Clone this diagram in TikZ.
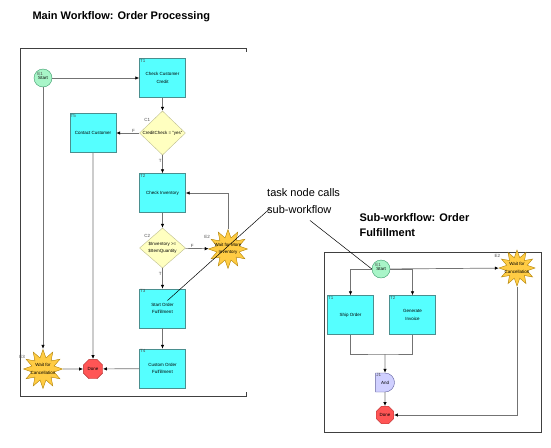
\documentclass[tikz,border=0pt]{standalone}
\usepackage{fontspec}
\setmainfont{Liberation Sans}
\usetikzlibrary{shapes.geometric,shapes.misc,arrows.meta}
\definecolor{taskcyan}{HTML}{55FFFF}
\definecolor{taskedge}{HTML}{4A8F8F}
\definecolor{condfill}{HTML}{FFFFC0}
\definecolor{condedge}{HTML}{BDBD8F}
\definecolor{startfill}{HTML}{A8F5C8}
\definecolor{startedge}{HTML}{3A9A6A}
\definecolor{donefill}{HTML}{FF5555}
\definecolor{doneedge}{HTML}{B03030}
\definecolor{eventfill}{HTML}{FFCC44}
\definecolor{eventedge}{HTML}{B08000}
\definecolor{joinfill}{HTML}{D0D0FF}
\definecolor{joinedge}{HTML}{6060A0}

\begin{document}
\begin{tikzpicture}[x=1pt,y=-1pt,
  tiny/.style={font=\fontsize{4.5}{7.5}\selectfont},
  tag/.style={font=\fontsize{4.5}{5}\selectfont,inner sep=0.6pt,text=black!70},
  task/.style={tiny,draw=taskedge,fill=taskcyan,minimum width=46pt,minimum height=39pt,
    inner sep=1pt,align=center},
  cond/.style={tiny,draw=condedge,fill=condfill,diamond,inner sep=0pt,
    minimum width=46pt,minimum height=40pt,align=center},
  startev/.style={tiny,circle,draw=startedge,fill=startfill,minimum size=18pt,inner sep=0pt},
  doneev/.style={tiny,regular polygon,regular polygon sides=8,draw=doneedge,fill=donefill,
    minimum size=21pt,inner sep=0pt},
  waitev/.style={star,star points=12,star point ratio=1.7,draw=eventedge,fill=eventfill,
    minimum size=39pt,inner sep=0pt},
  waittext/.style={tiny,align=center},
  joinnode/.style={tiny,rounded rectangle,rounded rectangle left arc=none,draw=joinedge,
    fill=joinfill,minimum width=18pt,minimum height=19pt,inner sep=0pt},
  flow/.style={draw=black!55,line width=0.7pt,-{Latex[black,length=4pt,width=3.5pt]}},
  line/.style={draw=black!55,line width=0.7pt},
  greyflow/.style={draw=black!20,line width=1.5pt,-{Latex[black,length=4pt,width=3.5pt]}},
  frame/.style={draw=black!75,line width=0.8pt},
  callout/.style={draw=black,line width=0.5pt},
  title/.style={font=\bfseries\fontsize{11}{15}\selectfont,align=left}]
\useasboundingbox (0,0) rectangle (551,447);

% main workflow
\node[title,anchor=west] (maintitle) at (29,17) {Main Workflow: Order Processing};
\draw[frame] (20,396) -- (20,48) -- (246,48) -- (246,52);
\draw[frame] (20,396) -- (246,396) -- (246,392);

\node[startev,label={[tag,anchor=north west]north west:E1}] (start) at (43,78) {Start};
\node[task,label={[tag,anchor=north west]north west:T1}] (t1) at (162.5,78) {Check Customer\\Credit};
\node[cond,label={[tag,anchor=south east]north west:C1}] (c1) at (162.5,133) {CreditCheck = "yes"};
\node[task,label={[tag,anchor=north west]north west:T5}] (t5) at (93,133) {Contact Customer};
\node[task,label={[tag,anchor=north west]north west:T2}] (t2) at (162.5,193) {Check Inventory};
\node[cond,label={[tag,anchor=south east]north west:C2}] (c2) at (162.5,248) {\$Inventory >=\\\$ItemQuantity};
\node[waitev,label={[tag,anchor=south east]150:E2},
  label={[waittext]center:Wait for More\\Inventory}] (e2) at (228,249) {};
\node[task,label={[tag,anchor=north west]north west:T3}] (t3) at (162.5,308.5) {Start Order\\Fulfillment};
\node[task,label={[tag,anchor=north west]north west:T4}] (t4) at (162.5,368.5) {Custom Order\\Fulfillment};
\node[doneev] (done) at (93,369) {Done};
\node[waitev,label={[tag,anchor=south east]150:E3},
  label={[waittext]center:Wait for\\Cancellation}] (e3) at (43,369) {};

\draw[flow] (start) -- (t1);
\draw[flow] (t1) -- (c1);
\draw[flow] (c1) -- node[tag,above,pos=0.25] {F} (t5);
\draw[flow] (c1) -- node[tag,left,pos=0.3] {T} (t2);
\draw[flow] (t2) -- (c2);
\draw[flow] (c2) -- node[tag,above,pos=0.3] {F} (e2);
\draw[flow] (e2) |- (t2);
\draw[flow] (c2) -- node[tag,left,pos=0.3] {T} (t3);
\draw[flow] (t3) -- (t4);
\draw[flow] (t4) -- (done);
\draw[greyflow] (t5) -- (done);
\draw[flow] (start) -- (e3);
\draw[flow] (e3) -- (done);

% call annotation
\node[font=\fontsize{11}{17}\selectfont,align=left,anchor=north west,inner sep=0pt] (note) at (267,188)
  {task node calls\\sub-workflow};

% sub-workflow
\node[title,anchor=north west] (subtitle) at (356,210) {Sub-workflow: Order\\Fulfillment};
\draw[frame] (324,252) rectangle (541,432);

\node[startev,label={[tag,anchor=north west]north west:E1}] (sstart) at (381,269) {Start};
\node[task,label={[tag,anchor=north west]north west:T1}] (st1) at (350.5,315) {Ship Order};
\node[task,label={[tag,anchor=north west]north west:T2}] (st2) at (412.5,315) {Generate\\Invoice};
\node[waitev,minimum size=36pt,label={[tag,anchor=south east]150:E2},
  label={[waittext]center:Wait for\\Cancellation}] (se2) at (517,268) {};
\coordinate (jn) at (385,354);
\node[joinnode,label={[tag,anchor=north west]north west:J1}] (j1) at (385,382.5) {And};
\node[doneev,minimum size=19pt] (sdone) at (385,415) {Done};

\draw[flow] (sstart) -| (st1);
\draw[flow] (sstart) -| (st2);
\draw[flow] (sstart) -- (se2);
\draw[line] (st1) |- (jn) -| (st2);
\draw[flow] (jn) -- (j1);
\draw[flow] (j1) -- (sdone);
\draw[flow] (se2) |- (sdone);

\draw[callout] ([shift={(3,-5)}]note.south west) -- ([shift={(5,-8)}]t3.center);
\draw[callout] ([shift={(43,7)}]note.south west) -- (sstart.west);
\end{tikzpicture}
\end{document}
